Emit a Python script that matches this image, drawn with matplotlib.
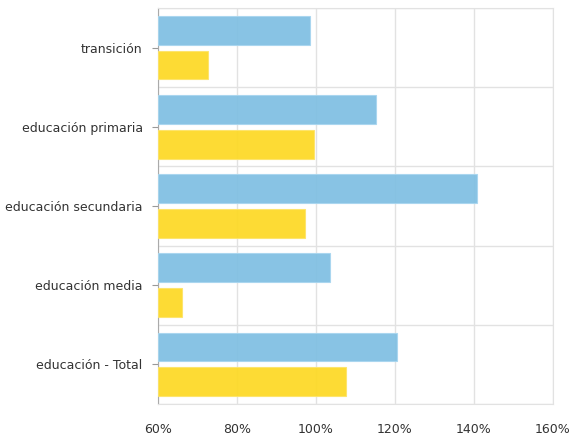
import numpy as np
import matplotlib
matplotlib.use('Agg')
import matplotlib.pyplot as plt
from matplotlib.ticker import FuncFormatter

# Data (percent)
categories = ['transición', 'educación primaria', 'educación secundaria',
              'educación media', 'educación - Total']
blue_values = [98.6, 115.2, 140.8, 103.5, 120.4]
yellow_values = [72.6, 99.4, 97.1, 66.2, 107.6]
x_ticks = [60, 80, 100, 120, 140, 160]

blue = '#7fbfe2'
yellow = '#fdd924'
grid_color = '#e2e2e2'
text_color = '#333333'

fig = plt.figure(figsize=(5.71, 4.41), dpi=100)
ax = fig.add_axes([0.2767, 0.0839, 0.6918, 0.898])

y = np.arange(len(categories))
h = 0.365
off = 0.22
ax.barh(y - off, np.array(blue_values) - 60, left=60, height=h, color=blue,
        edgecolor='#a9d6ef', linewidth=0.8, alpha=0.93, zorder=3)
ax.barh(y + off, np.array(yellow_values) - 60, left=60, height=h, color=yellow,
        edgecolor='#fde46a', linewidth=0.8, alpha=0.93, zorder=3)

ax.set_xlim(60, 160)
ax.set_ylim(len(categories) - 0.5, -0.5)
ax.set_xticks(x_ticks)
ax.xaxis.set_major_formatter(FuncFormatter(lambda v, p: f'{v:.0f}%'))
ax.set_yticks(y)
ax.set_yticklabels(categories)
ax.set_yticks(np.arange(len(categories) + 1) - 0.5, minor=True)

ax.grid(axis='x', which='major', color=grid_color, linewidth=1, zorder=0)
ax.grid(axis='y', which='minor', color=grid_color, linewidth=1, zorder=0)
ax.tick_params(axis='x', length=0, pad=14, labelsize=9, labelcolor=text_color)
ax.tick_params(axis='y', which='major', length=4, color='#999999', pad=7,
               labelsize=9, labelcolor=text_color)
ax.tick_params(axis='y', which='minor', length=0)

for side in ['top', 'right', 'bottom']:
    ax.spines[side].set_color(grid_color)
ax.spines['left'].set_color('#aaaaaa')

fig.savefig('out.png', dpi=100)
